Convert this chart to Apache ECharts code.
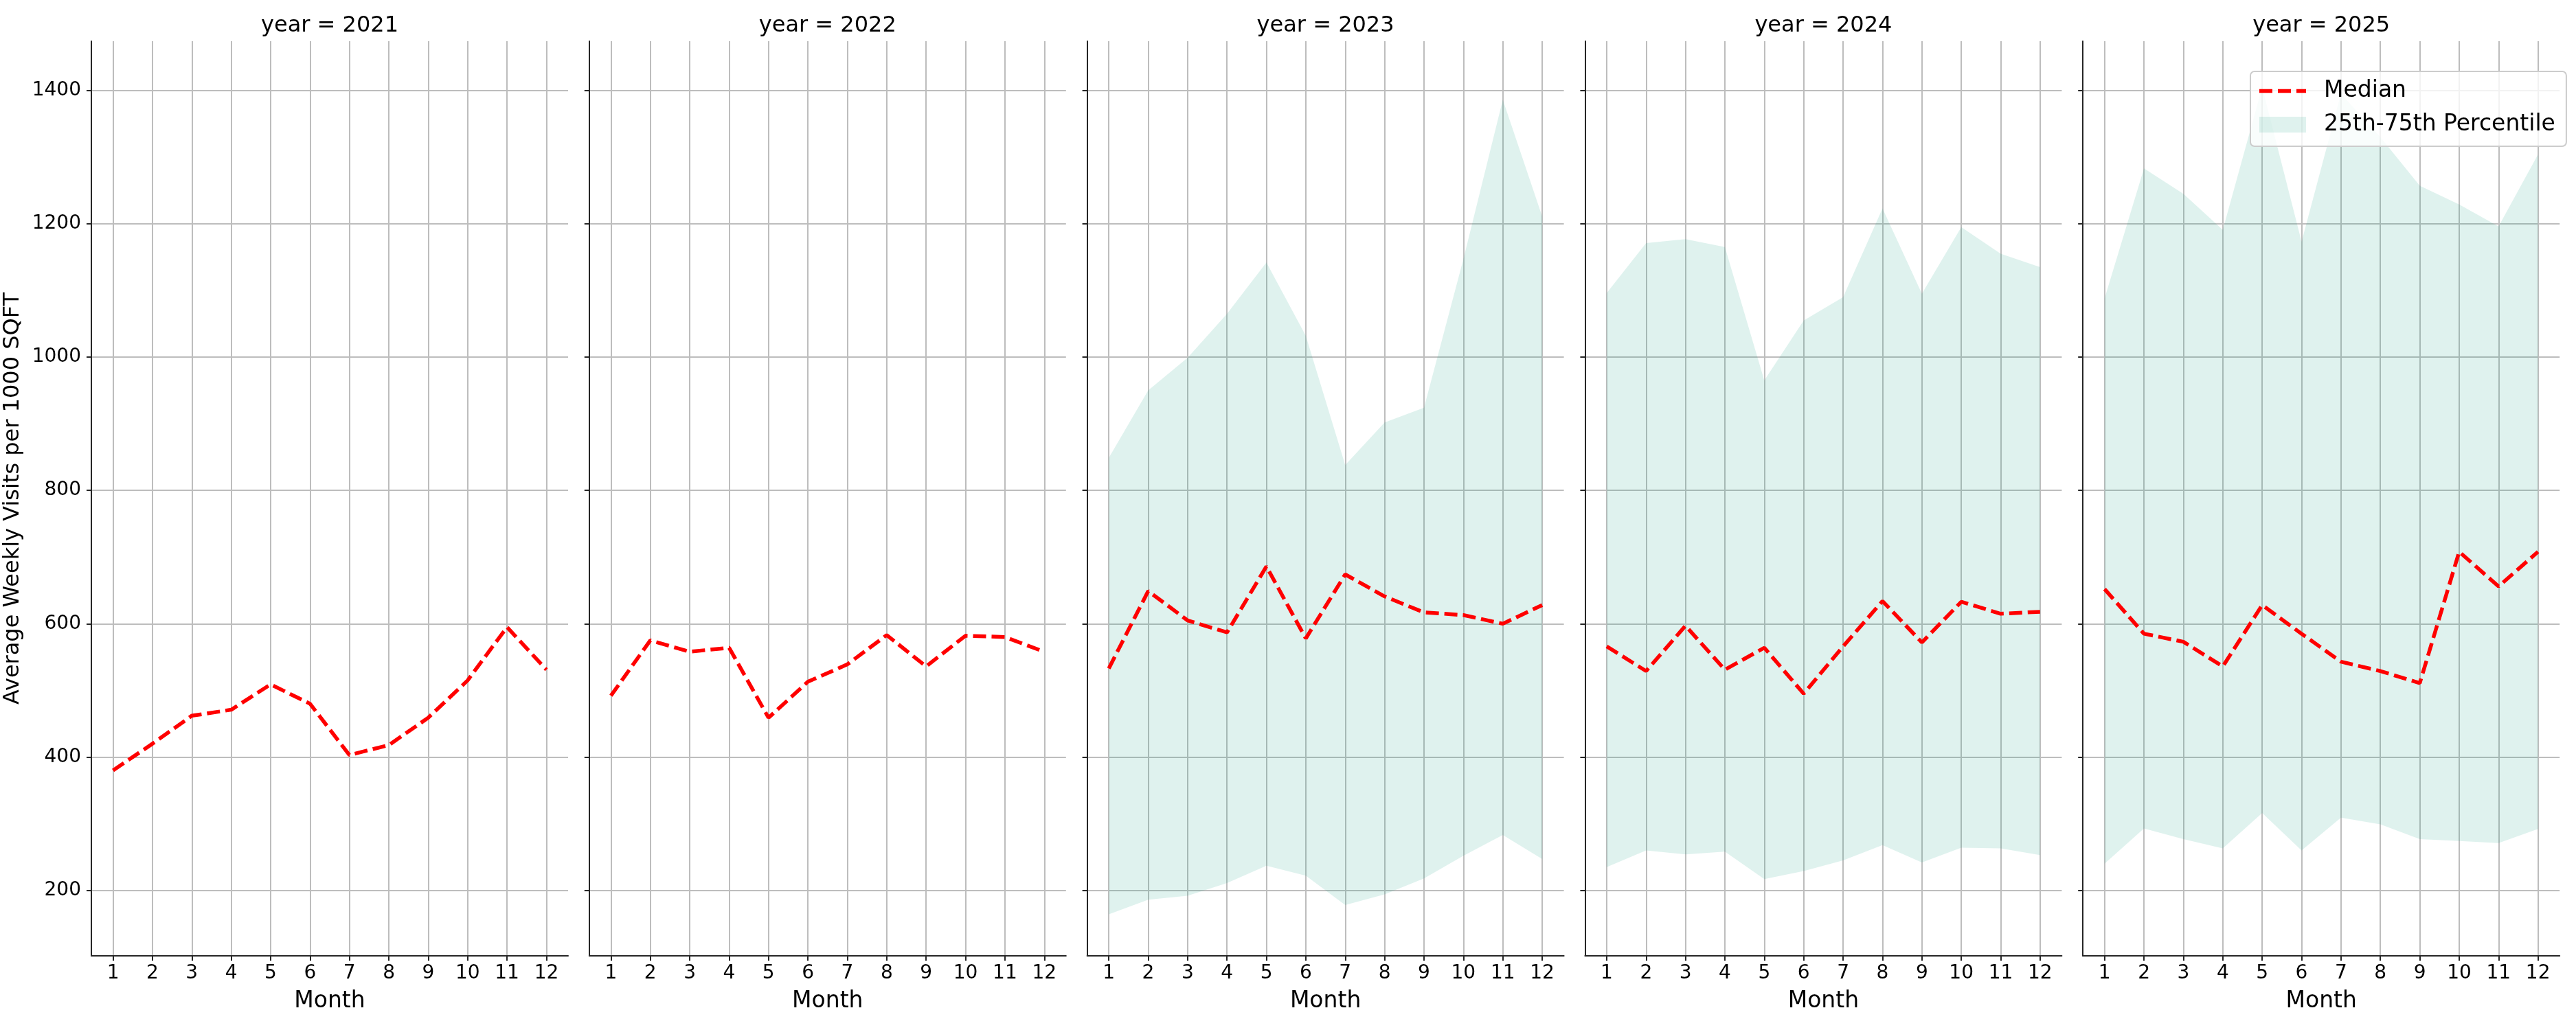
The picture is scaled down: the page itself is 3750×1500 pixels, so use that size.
<!DOCTYPE html>
<html>
<head>
<meta charset="utf-8">
<script src="https://cdn.jsdelivr.net/npm/echarts@6/dist/echarts.min.js"></script>
<style>
  html, body { margin: 0; padding: 0; background: #fff; }
  #chart { width: 3750px; height: 1500px; }
</style>
</head>
<body>
<div id="chart"></div>
<script>
// 数据
const years = [2021, 2022, 2023, 2024, 2025];
const months = [1, 2, 3, 4, 5, 6, 7, 8, 9, 10, 11, 12];
const yTicks = [200, 400, 600, 800, 1000, 1200, 1400];

const median2021 = [380, 420, 462, 471, 509, 480, 403, 418, 459, 515, 595, 531];
const median2022 = [492, 575, 558, 564, 459, 513, 539, 583, 536, 582, 580, 558];
const median2023 = [533, 649, 605, 587, 686, 578, 674, 641, 617, 613, 600, 628];
const median2024 = [566, 529, 597, 531, 564, 495, 566, 634, 572, 633, 615, 618];
const median2025 = [652, 585, 573, 536, 628, 585, 543, 529, 511, 708, 656, 708];

const p25_2023 = [164, 186, 192, 211, 237, 222, 178, 194, 218, 252, 283, 247];
const p75_2023 = [849, 950, 999, 1065, 1142, 1032, 838, 902, 924, 1147, 1386, 1211];
const p25_2024 = [235, 260, 254, 258, 217, 229, 245, 268, 242, 264, 263, 253];
const p75_2024 = [1096, 1171, 1177, 1165, 965, 1055, 1090, 1223, 1095, 1195, 1155, 1135];
const p25_2025 = [240, 293, 277, 263, 316, 260, 309, 299, 277, 274, 271, 292];
const p75_2025 = [1088, 1283, 1245, 1191, 1405, 1173, 1395, 1330, 1257, 1229, 1196, 1304];

const medians = [median2021, median2022, median2023, median2024, median2025];
const lowers = [null, null, p25_2023, p25_2024, p25_2025];
const uppers = [null, null, p75_2023, p75_2024, p75_2025];

// 版面
const FONT = 'DejaVu Sans';
const AXIS_COLOR = '#262626';
const GRID_COLOR = '#bdbdbd';
const MEDIAN_COLOR = '#ff0000';
const BAND_COLOR = 'rgba(42, 168, 142, 0.15)';
const panelLeft = (i) => 133 + i * 724.8;
const panelWidth = 694;

const chart = echarts.init(document.getElementById('chart'), null, { renderer: 'canvas' });

const grids = [], xAxes = [], yAxes = [], titles = [], series = [];

years.forEach(function(year, i) {
  grids.push({
    left: panelLeft(i),
    top: 60,
    width: panelWidth,
    height: 1332,
    outerBoundsMode: 'none'
  });

  titles.push({
    text: 'year = ' + year,
    left: panelLeft(i) + panelWidth / 2,
    top: 22,
    padding: 0,
    textAlign: 'center',
    textStyle: { fontSize: 32, fontWeight: 'normal', color: '#000', fontFamily: FONT }
  });

  xAxes.push({
    gridIndex: i,
    type: 'value',
    min: 0.45,
    max: 12.55,
    name: 'Month',
    nameLocation: 'middle',
    nameGap: 50,
    nameMoveOverlap: false,
    nameTextStyle: { fontSize: 33, color: '#000', fontFamily: FONT },
    axisLine: { show: true, onZero: false, lineStyle: { color: AXIS_COLOR, width: 2 } },
    axisTick: { show: true, length: 7, customValues: months, lineStyle: { color: AXIS_COLOR, width: 2 } },
    axisLabel: {
      show: true, customValues: months, margin: 12, fontSize: 28, color: '#000', fontFamily: FONT,
      formatter: (v) => String(v)
    },
    splitLine: { show: true, lineStyle: { color: GRID_COLOR, width: 2 } }
  });

  yAxes.push({
    gridIndex: i,
    type: 'value',
    min: 101.8,
    max: 1473.9,
    name: i === 0 ? 'Average Weekly Visits per 1000 SQFT' : '',
    nameLocation: 'middle',
    nameGap: 98,
    nameMoveOverlap: false,
    nameTextStyle: { fontSize: 32, color: '#000', fontFamily: FONT },
    axisLine: { show: true, onZero: false, lineStyle: { color: AXIS_COLOR, width: 2 } },
    axisTick: { show: true, length: 7, customValues: yTicks, lineStyle: { color: AXIS_COLOR, width: 2 } },
    axisLabel: {
      show: i === 0, customValues: yTicks, margin: 15, fontSize: 28, color: '#000', fontFamily: FONT,
      formatter: (v) => String(v)
    },
    splitLine: { show: true, lineStyle: { color: GRID_COLOR, width: 2 } }
  });

  // 25th-75th 区间（一个多边形，坐标由坐标轴换算）
  if (lowers[i]) {
    const lower = lowers[i];
    const upper = uppers[i];
    series.push({
      type: 'custom',
      name: '25th-75th Percentile',
      xAxisIndex: i,
      yAxisIndex: i,
      silent: true,
      itemStyle: { color: BAND_COLOR },
      encode: { x: 0, y: [1, 2] },
      data: months.map((m, k) => [m, lower[k], upper[k]]),
      renderItem: function(params, api) {
        if (params.dataIndex !== 0) return null;
        const top = months.map((m, k) => api.coord([m, upper[k]]));
        const bottom = months.map((m, k) => api.coord([m, lower[k]])).reverse();
        return {
          type: 'polygon',
          silent: true,
          shape: { points: top.concat(bottom) },
          style: { fill: BAND_COLOR, stroke: null }
        };
      },
      z: 2
    });
  }

  // 中位数
  series.push({
    type: 'line',
    name: 'Median',
    xAxisIndex: i,
    yAxisIndex: i,
    symbol: 'none',
    showSymbol: false,
    itemStyle: { color: MEDIAN_COLOR },
    lineStyle: { color: MEDIAN_COLOR, width: 5.5, type: [19, 8] },
    data: months.map((m, k) => [m, medians[i][k]]),
    z: 3
  });
});

chart.setOption({
  animation: false,
  backgroundColor: '#ffffff',
  textStyle: { fontFamily: FONT },
  title: titles,
  grid: grids,
  xAxis: xAxes,
  yAxis: yAxes,
  legend: {
    left: 3276,
    top: 104,
    orient: 'vertical',
    selectedMode: false,
    symbolKeepAspect: true,
    data: [
      {
        name: 'Median',
        icon: 'path://M0,0h19v5.5h-19z M27,0h19v5.5h-19z M54,0h14v5.5h-14z',
        itemStyle: { color: MEDIAN_COLOR }
      },
      { name: '25th-75th Percentile', icon: 'rect', itemStyle: { color: BAND_COLOR } }
    ],
    itemWidth: 68,
    itemHeight: 23,
    itemGap: 16,
    padding: [12, 16, 15, 13],
    backgroundColor: 'rgba(255, 255, 255, 0.8)',
    borderColor: '#cccccc',
    borderWidth: 2,
    borderRadius: 6,
    textStyle: { fontSize: 33, color: '#000', fontFamily: FONT, padding: [0, 0, 0, 21] }
  },
  series: series
});
</script>
</body>
</html>
